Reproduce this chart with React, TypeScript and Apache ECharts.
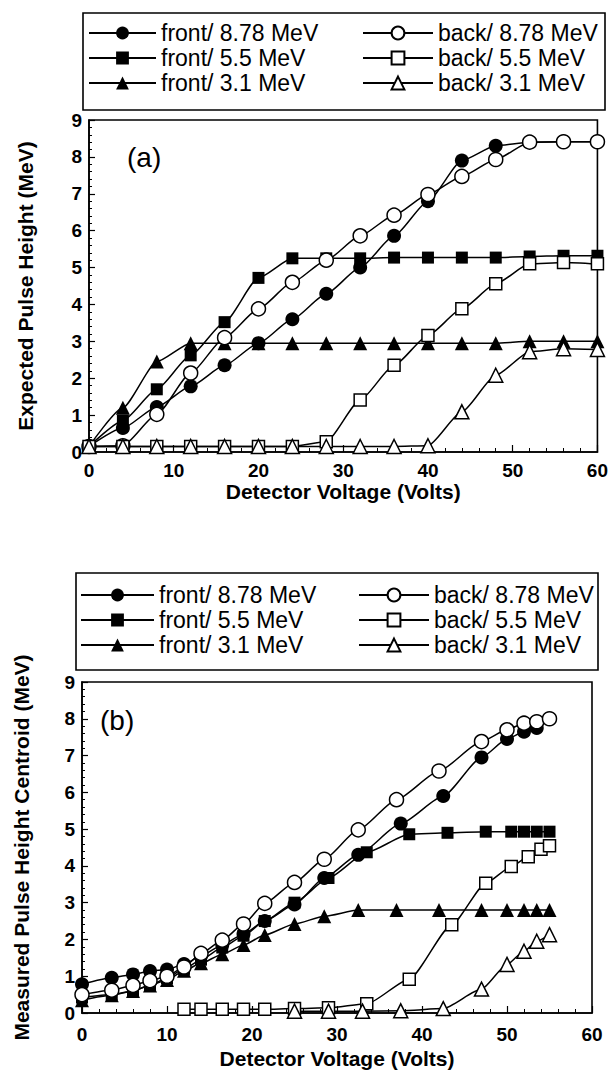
import React, { useEffect, useRef } from "react";
import * as echarts from "echarts";

// ---------- Data ----------
const names = [
  "front/ 8.78 MeV",
  "front/ 5.5 MeV",
  "front/ 3.1 MeV",
  "back/ 8.78 MeV",
  "back/ 5.5 MeV",
  "back/ 3.1 MeV",
];

// (a) Expected pulse height
const aX = [0, 4, 8, 12, 16, 20, 24, 28, 32, 36, 40, 44, 48, 52, 56, 60];
const aFront878 = [0.15, 0.65, 1.22, 1.78, 2.35, 2.95, 3.6, 4.29, 5.0, 5.86, 6.8, 7.9, 8.3, 8.4, 8.41, 8.41];
const aFront55 = [0.15, 0.85, 1.7, 2.62, 3.52, 4.72, 5.25, 5.25, 5.25, 5.27, 5.27, 5.27, 5.27, 5.3, 5.32, 5.32];
const aFront31 = [0.15, 1.2, 2.45, 2.95, 2.95, 2.95, 2.95, 2.95, 2.95, 2.95, 2.95, 2.95, 2.95, 3.0, 3.0, 3.0];
const aBack878 = [0.15, 0.17, 1.02, 2.14, 3.1, 3.88, 4.6, 5.2, 5.86, 6.42, 6.98, 7.47, 7.93, 8.4, 8.41, 8.41];
const aBack55 = [0.15, 0.15, 0.15, 0.15, 0.15, 0.15, 0.15, 0.28, 1.41, 2.35, 3.16, 3.88, 4.56, 5.1, 5.14, 5.1];
const aBack31 = [0.15, 0.15, 0.15, 0.15, 0.15, 0.15, 0.15, 0.15, 0.15, 0.15, 0.17, 1.09, 2.08, 2.72, 2.8, 2.78];

// (b) Measured pulse height centroid
const bFront878X = [0, 3.5, 6, 8, 10, 12, 14, 16.5, 19, 21.5, 25, 28.5, 32.5, 37.5, 42.5, 47, 50, 52, 53.5];
const bFront878 = [0.78, 0.96, 1.05, 1.14, 1.18, 1.33, 1.55, 1.85, 2.15, 2.5, 2.95, 3.67, 4.3, 5.15, 5.9, 6.95, 7.45, 7.65, 7.75];
const bFront55X = [0, 3.5, 6, 8, 10, 12, 14, 16.5, 19, 21.5, 25, 29, 33.5, 38.5, 43, 47.5, 50.5, 52, 53.5, 55];
const bFront55 = [0.42, 0.5, 0.6, 0.76, 0.95, 1.2, 1.45, 1.78, 2.1, 2.5, 3.0, 3.67, 4.37, 4.86, 4.9, 4.93, 4.93, 4.93, 4.93, 4.93];
const bFront31X = [0, 3.5, 6, 8, 10, 12, 14, 16.5, 19, 21.5, 25, 28.5, 32.5, 37, 42, 47, 50, 52, 53.5, 55];
const bFront31 = [0.35, 0.48, 0.6, 0.75, 0.9, 1.15, 1.35, 1.6, 1.85, 2.12, 2.42, 2.63, 2.8, 2.8, 2.8, 2.8, 2.8, 2.8, 2.8, 2.8];
const bBack878X = [0, 3.5, 6, 8, 10, 12, 14, 16.5, 19, 21.5, 25, 28.5, 32.5, 37, 42, 47, 50, 52, 53.5, 55];
const bBack878 = [0.5, 0.62, 0.75, 0.88, 1.0, 1.25, 1.62, 1.98, 2.42, 2.98, 3.55, 4.18, 4.98, 5.8, 6.58, 7.38, 7.7, 7.88, 7.92, 8.0];
const bBack55X = [12, 14, 16.5, 19, 21.5, 25, 29, 33.5, 38.5, 43.5, 47.5, 50.5, 52.5, 54, 55];
const bBack55 = [0.1, 0.1, 0.1, 0.1, 0.1, 0.12, 0.14, 0.25, 0.92, 2.4, 3.53, 3.98, 4.25, 4.45, 4.55];
const bBack31X = [25, 29, 33, 37.5, 42.5, 47, 50, 52, 53.5, 55];
const bBack31 = [0.05, 0.05, 0.05, 0.06, 0.12, 0.65, 1.32, 1.68, 1.95, 2.13];

const xTicks = { min: 0, max: 60, interval: 10 };
const yTicks = { min: 0, max: 9, interval: 1 };
const xTitle = "Detector Voltage (Volts)";
const yTitleA = "Expected Pulse Height (MeV)";
const yTitleB = "Measured Pulse Height Centroid (MeV)";

// ---------- Styles ----------
const FONT = "Liberation Sans, Arial, Helvetica, sans-serif";
const markerStyle: Record<string, { symbol: string; size: number; filled: boolean }> = {
  "front/ 8.78 MeV": { symbol: "circle", size: 14, filled: true },
  "front/ 5.5 MeV": { symbol: "rect", size: 12, filled: true },
  "front/ 3.1 MeV": { symbol: "triangle", size: 14, filled: true },
  "back/ 8.78 MeV": { symbol: "circle", size: 14, filled: false },
  "back/ 5.5 MeV": { symbol: "rect", size: 12, filled: false },
  "back/ 3.1 MeV": { symbol: "triangle", size: 14, filled: false },
};

function makeSeries(name: string, xs: number[], ys: number[], idx: number) {
  const st = markerStyle[name];
  return {
    type: "line",
    name,
    xAxisIndex: idx,
    yAxisIndex: idx,
    data: xs.map((x, i) => [x, ys[i]]),
    symbol: st.symbol,
    symbolSize: st.size,
    showAllSymbol: true,
    smooth: 0.2,
    smoothMonotone: "x",
    lineStyle: { color: "#000", width: 1.5 },
    itemStyle: {
      color: st.filled ? "#000" : "#fff",
      borderColor: "#000",
      borderWidth: st.filled ? 0 : 1.5,
    },
    emphasis: { disabled: true },
    z: st.filled ? 3 : 4,
  };
}

function makeAxes(idx: number) {
  const axisLine = { show: true, lineStyle: { color: "#000", width: 1.6 } };
  const label = { color: "#000", fontSize: 19, fontWeight: "bold", fontFamily: FONT };
  return {
    x: {
      gridIndex: idx,
      type: "value",
      ...xTicks,
      axisLine,
      axisTick: { show: true, inside: true, length: 7, lineStyle: { color: "#000", width: 1.2 } },
      minorTick: { show: true, splitNumber: 5, length: 4, lineStyle: { color: "#000", width: 1 } },
      splitLine: { show: false },
      axisLabel: { ...label, margin: idx === 0 ? 9 : 12 },
      name: xTitle,
      nameLocation: "middle",
      nameGap: idx === 0 ? 28 : 35,
      nameTextStyle: { ...label, fontSize: 21 },
    },
    y: {
      gridIndex: idx,
      type: "value",
      ...yTicks,
      axisLine,
      axisTick: { show: true, inside: true, length: 6, lineStyle: { color: "#000", width: 1.2 } },
      minorTick: { show: true, splitNumber: 5, length: 3, lineStyle: { color: "#000", width: 1 } },
      splitLine: { show: false },
      axisLabel: { ...label, margin: 7 },
      name: idx === 0 ? yTitleA : yTitleB,
      nameLocation: "middle",
      nameGap: idx === 0 ? 53 : 50,
      nameRotate: 90,
      nameTextStyle: { ...label, fontSize: 21 },
    },
  };
}

function makeLegends(rowCenters: number[], leftX: number, leftW: number, rightX: number, rightW: number) {
  const out: any[] = [];
  names.forEach((n, i) => {
    const col = i < 3 ? 0 : 1;
    const row = i % 3;
    out.push({
      data: [n],
      left: col === 0 ? leftX : rightX,
      top: rowCenters[row] - 11.5,
      padding: 0,
      itemWidth: col === 0 ? leftW : rightW,
      itemHeight: 16,
      selectedMode: false,
      textStyle: { fontSize: 23, color: "#000", fontFamily: FONT },
    });
  });
  return out;
}

export default function App() {
  const ref = useRef<HTMLDivElement>(null);
  useEffect(() => {
    if (!ref.current) return;
    const chart = echarts.init(ref.current, undefined, { renderer: "svg" });
    const axA = makeAxes(0);
    const axB = makeAxes(1);
    const option: any = {
      animation: false,
      backgroundColor: "#fff",
      grid: [
        { left: 89, top: 120, width: 509, height: 332, show: true, borderColor: "#000", borderWidth: 1.6, backgroundColor: "transparent" },
        { left: 82, top: 682, width: 510, height: 331, show: true, borderColor: "#000", borderWidth: 1.6, backgroundColor: "transparent" },
      ],
      xAxis: [axA.x, axB.x],
      yAxis: [axA.y, axB.y],
      legend: [
        ...makeLegends([33, 58, 83], 88, 67, 362, 70),
        ...makeLegends([595, 620, 645], 80, 73, 358, 70),
      ],
      graphic: [
        { type: "rect", shape: { x: 83, y: 13, width: 522, height: 97 }, style: { fill: "none", stroke: "#000", lineWidth: 1.6 }, z: 0 },
        { type: "rect", shape: { x: 76, y: 573, width: 522, height: 97 }, style: { fill: "none", stroke: "#000", lineWidth: 1.6 }, z: 0 },
        { type: "text", left: 127, top: 143, style: { text: "(a)", fontSize: 28, fontFamily: FONT, fill: "#000" } },
        { type: "text", left: 100, top: 706, style: { text: "(b)", fontSize: 28, fontFamily: FONT, fill: "#000" } },
      ],
      series: [
        makeSeries(names[0], aX, aFront878, 0),
        makeSeries(names[1], aX, aFront55, 0),
        makeSeries(names[2], aX, aFront31, 0),
        makeSeries(names[3], aX, aBack878, 0),
        makeSeries(names[4], aX, aBack55, 0),
        makeSeries(names[5], aX, aBack31, 0),
        makeSeries(names[0], bFront878X, bFront878, 1),
        makeSeries(names[1], bFront55X, bFront55, 1),
        makeSeries(names[2], bFront31X, bFront31, 1),
        makeSeries(names[3], bBack878X, bBack878, 1),
        makeSeries(names[4], bBack55X, bBack55, 1),
        makeSeries(names[5], bBack31X, bBack31, 1),
      ],
    };
    chart.setOption(option);
    return () => chart.dispose();
  }, []);
  return (
    <div
      ref={ref}
      style={{ position: "absolute", left: 0, top: 0, width: 611, height: 1073, background: "#fff" }}
    />
  );
}
